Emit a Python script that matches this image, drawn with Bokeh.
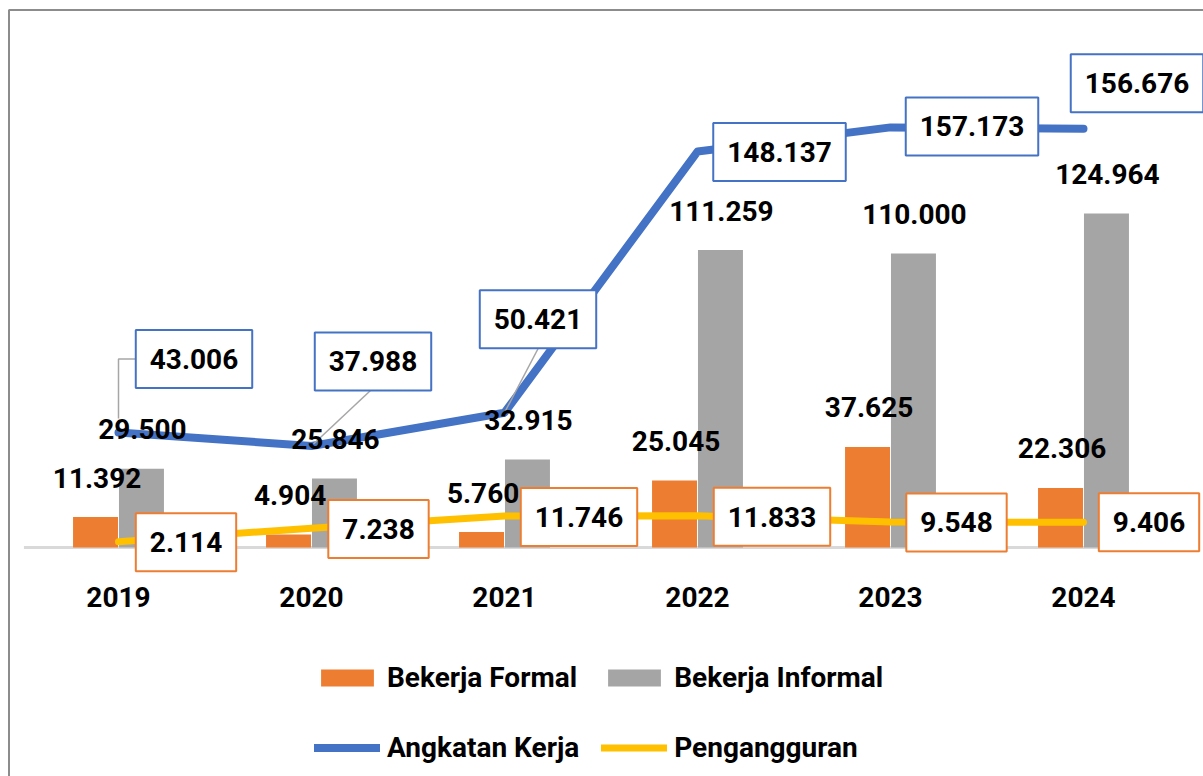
from bokeh.plotting import figure
from bokeh.models import ColumnDataSource, Range1d
from bokeh.transform import dodge
from bokeh.core.properties import value
from bokeh.embed import file_html
from bokeh.resources import INLINE

# ---------------- data ----------------
years = ["2019", "2020", "2021", "2022", "2023", "2024"]
bekerja_formal = [11.392, 4.904, 5.760, 25.045, 37.625, 22.306]
bekerja_informal = [29.500, 25.846, 32.915, 111.259, 110.000, 124.964]
angkatan_kerja = [43.006, 37.988, 50.421, 148.137, 157.173, 156.676]
pengangguran = [2.114, 7.238, 11.746, 11.833, 9.548, 9.406]

# ---------------- layout constants ----------------
W, H = 1203, 776
PX_X = 193.0      # pixels per category
PX_Y = 2.673      # pixels per unit
X0 = -118 / PX_X
Y1 = 547 / PX_Y
X1 = X0 + W / PX_X
Y0 = Y1 - H / PX_Y

FONT_NAME = "Roboto"
FONT = value(FONT_NAME)
FS = "28px"
C_FORMAL = "#ED7D31"
C_INFORMAL = "#A5A5A5"
C_AK = "#4472C4"
C_PG = "#FFC000"
BOX_PAD = dict(left=14, right=14, top=19, bottom=19)

# label box offsets (screen px, relative to data point; +dy = down)
ak_box_dx = [75.5, 61.5, 33.5, 82, 81.5, 53.5]
ak_box_dy = [-73.5, -84.5, -93.5, 0.5, -1, -45.5]
pg_box_dx = [67.5, 67, 74.5, 74.5, 66, 65.5]
pg_box_dy = [0.5, 0.8, 1, 1, 0.5, 0]
leader_px = {0: [(0, -14), (0, -73.5), (18, -73.5)],
             1: [(2, -2), (59, -55.5)],
             2: [(0, 0), (33.5, -64)]}

xs = list(range(len(years)))
fmt = lambda v: f"{v:.3f}"

src = ColumnDataSource(dict(
    x=xs, year=years,
    formal=bekerja_formal, informal=bekerja_informal,
    ak=angkatan_kerja, pg=pengangguran,
    formal_lbl=[fmt(v) for v in bekerja_formal],
    informal_lbl=[fmt(v) for v in bekerja_informal],
    ak_lbl=[fmt(v) for v in angkatan_kerja],
    pg_lbl=[fmt(v) for v in pengangguran],
    ak_dx=ak_box_dx, ak_dy=ak_box_dy,
    pg_dx=pg_box_dx, pg_dy=pg_box_dy,
    zero=[0] * len(years),
))

p = figure(width=W, height=H,
           x_range=Range1d(X0, X1),
           y_range=Range1d(Y0, Y1),
           output_backend="svg", toolbar_location=None,
           x_axis_location=None, y_axis_location=None,
           min_border=0, outline_line_color=None,
           background_fill_color="white", border_fill_color="white")
p.grid.visible = False

# chart frame (left and top edges, corner at 8.5px / 9.5px)
fx = X0 + 8.5 / PX_X
fy = Y1 - 9.5 / PX_Y
p.multi_line(xs=[[fx, fx, X1 + 1]], ys=[[Y0 - 1, fy, fy]],
             line_color="#8C8C8C", line_width=2)

# baseline
p.segment(x0=[xs[0] - 0.49], y0=[0], x1=[xs[-1] + 0.5], y1=[0],
          line_color="#D9D9D9", line_width=3)

BW = 0.233
OFF = 0.119
p.vbar(x=dodge("x", -OFF, range=p.x_range), top="formal", width=BW, source=src,
       fill_color=C_FORMAL, line_color=None, legend_label="Bekerja Formal")
p.vbar(x=dodge("x", OFF, range=p.x_range), top="informal", width=BW, source=src,
       fill_color=C_INFORMAL, line_color=None, legend_label="Bekerja Informal")

p.line(x="x", y="ak", source=src, line_color=C_AK, line_width=8,
       line_cap="round", line_join="round", legend_label="Angkatan Kerja")
p.line(x="x", y="pg", source=src, line_color=C_PG, line_width=7,
       line_cap="round", line_join="round", legend_label="Pengangguran")

# leader lines for some labels
lx, ly = [], []
for i, pts in leader_px.items():
    lx.append([xs[i] + dx / PX_X for dx, dy in pts])
    ly.append([angkatan_kerja[i] - dy / PX_Y for dx, dy in pts])
p.multi_line(xs=lx, ys=ly, line_color="#A6A6A6", line_width=1.5)

# bar value labels
common = dict(text_font=FONT, text_font_size=FS, text_font_style="bold",
              text_color="black", text_align="center", text_baseline="middle")
p.text(x=dodge("x", -OFF + 0.008, range=p.x_range), y="formal", text="formal_lbl",
       y_offset=-39.5, source=src, **common)
p.text(x=dodge("x", OFF + 0.005, range=p.x_range), y="informal", text="informal_lbl",
       y_offset=-39.5, source=src, **common)

# boxed labels for lines
p.text(x="x", y="ak", text="ak_lbl", x_offset="ak_dx", y_offset="ak_dy", source=src,
       background_fill_color="white", border_line_color=C_AK, border_line_width=2,
       padding=BOX_PAD, **common)
p.text(x="x", y="pg", text="pg_lbl", x_offset="pg_dx", y_offset="pg_dy", source=src,
       background_fill_color="white", border_line_color=C_FORMAL, border_line_width=2,
       padding=BOX_PAD, **common)

# category labels
p.text(x="x", y="zero", text="year", y_offset=49, source=src, **common)

lg = p.legend[0]
lg.orientation = "horizontal"
lg.ncols = 2
lg.location = (314, 5)
lg.padding = 0
lg.margin = 0
lg.spacing = 22
lg.border_line_color = None
lg.background_fill_alpha = 0
lg.glyph_width = 66
lg.glyph_height = 21
lg.label_height = 48
lg.label_standoff = 7
lg.label_text_font = FONT_NAME
lg.label_text_font_size = FS
lg.label_text_font_style = "bold"
lg.label_text_color = "black"

open("out.html", "w").write(file_html(p, INLINE))
